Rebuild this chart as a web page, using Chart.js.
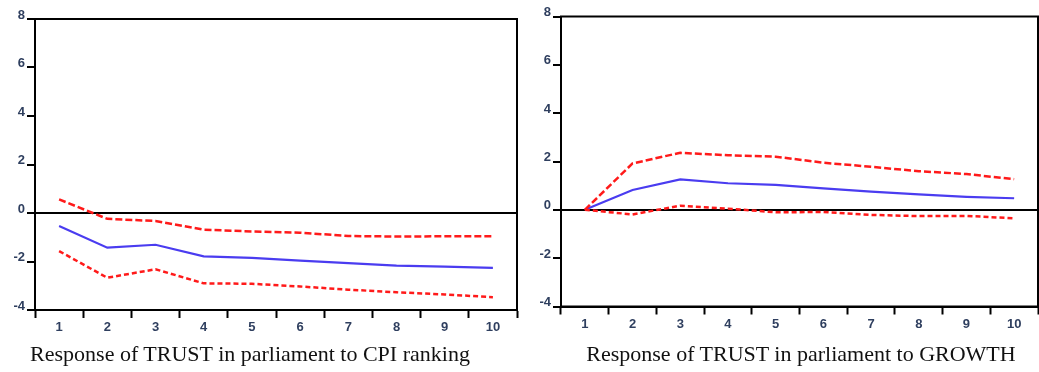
<!DOCTYPE html>
<html>
<head>
<meta charset="utf-8">
<script src="https://cdn.jsdelivr.net/npm/chart.js@4.4.1/dist/chart.umd.min.js"></script>
<style>
  html, body { margin: 0; padding: 0; background: #fff; }
  #wrap { position: relative; width: 1039px; height: 372px; overflow: hidden; background: #fff; }
  canvas { position: absolute; top: 0; }
  .cap { position: absolute; font-family: "Liberation Serif", "Times New Roman", serif; font-size: 22px; line-height: 22px; color: #111; white-space: nowrap; transform: translateX(-50%); }
</style>
</head>
<body>
<div id="wrap">
  <canvas id="c1" width="520" height="345" style="left:0px;width:520px;height:345px"></canvas>
  <canvas id="c2" width="519" height="345" style="left:520px;width:519px;height:345px"></canvas>
  <div class="cap" style="left:250px;top:343px">Response of TRUST in parliament to CPI ranking</div>
  <div class="cap" style="left:801px;top:343px">Response of TRUST in parliament to GROWTH</div>
</div>
<script>
const periods = ['1','2','3','4','5','6','7','8','9','10'];
const yTicks = [-4, -2, 0, 2, 4, 6, 8];

const cpiResponse = [-0.54, -1.43, -1.31, -1.79, -1.85, -1.96, -2.07, -2.17, -2.21, -2.26];
const cpiUpper    = [0.56, -0.24, -0.33, -0.69, -0.76, -0.81, -0.95, -0.97, -0.96, -0.96];
const cpiLower    = [-1.57, -2.67, -2.32, -2.90, -2.92, -3.03, -3.16, -3.27, -3.36, -3.47];

const growthResponse = [0, 0.82, 1.26, 1.10, 1.03, 0.89, 0.75, 0.64, 0.54, 0.48];
const growthUpper    = [0, 1.92, 2.36, 2.26, 2.20, 1.95, 1.78, 1.60, 1.48, 1.27];
const growthLower    = [0, -0.19, 0.17, 0.05, -0.10, -0.09, -0.21, -0.26, -0.25, -0.35];

const BLUE = '#4a3cf0';
const RED = '#ff1a1a';
const LABEL = '#2f3f5f';

const framePlugin = {
  id: 'frame',
  afterDraw(chart) {
    const a = chart.chartArea, ctx = chart.ctx;
    ctx.save();
    ctx.strokeStyle = '#000';
    ctx.lineWidth = 2;
    ctx.strokeRect(a.left, a.top, a.right - a.left, a.bottom - a.top);
    ctx.restore();
  }
};

function makeChart(id, resp, up, low, yWidth, pad) {
  return new Chart(document.getElementById(id), {
    type: 'line',
    data: {
      labels: periods,
      datasets: [
        { data: up, borderColor: RED, borderWidth: 2.5, borderDash: [7, 3], pointRadius: 0, tension: 0, fill: false },
        { data: low, borderColor: RED, borderWidth: 2.5, borderDash: [5, 3], pointRadius: 0, tension: 0, fill: false },
        { data: resp, borderColor: BLUE, borderWidth: 2.2, pointRadius: 0, tension: 0, fill: false }
      ]
    },
    options: {
      responsive: false,
      animation: false,
      events: [],
      layout: { padding: pad },
      plugins: { legend: { display: false }, tooltip: { enabled: false } },
      scales: {
        x: {
          type: 'category',
          offset: true,
          afterFit(s) { s.height = 30; },
          grid: { offset: true, drawOnChartArea: false, drawTicks: true, tickLength: 8, tickColor: '#000', tickWidth: 2 },
          border: { color: '#000', width: 2 },
          ticks: { color: LABEL, font: { family: 'Liberation Sans', size: 13, weight: 'bold' }, padding: 2, maxRotation: 0, autoSkip: false }
        },
        y: {
          min: -4, max: 8,
          afterFit(s) { s.width = yWidth; },
          afterBuildTicks(s) { s.ticks = yTicks.map(v => ({ value: v })); },
          grid: {
            drawOnChartArea: true,
            color: c => (c.tick && c.tick.value === 0) ? '#000' : 'rgba(0,0,0,0)',
            lineWidth: 2,
            tickColor: '#000', tickLength: 8, tickWidth: 2
          },
          border: { color: '#000', width: 2 },
          ticks: { color: LABEL, font: { family: 'Liberation Sans', size: 13, weight: 'bold' }, padding: 2, labelOffset: -4 }
        }
      }
    },
    plugins: [framePlugin]
  });
}

makeChart('c1', cpiResponse, cpiUpper, cpiLower, 35, { top: 19, right: 3, bottom: 5, left: 0 });
makeChart('c2', growthResponse, growthUpper, growthLower, 41, { top: 16.5, right: 1, bottom: 8.5, left: 0 });
</script>
</body>
</html>
